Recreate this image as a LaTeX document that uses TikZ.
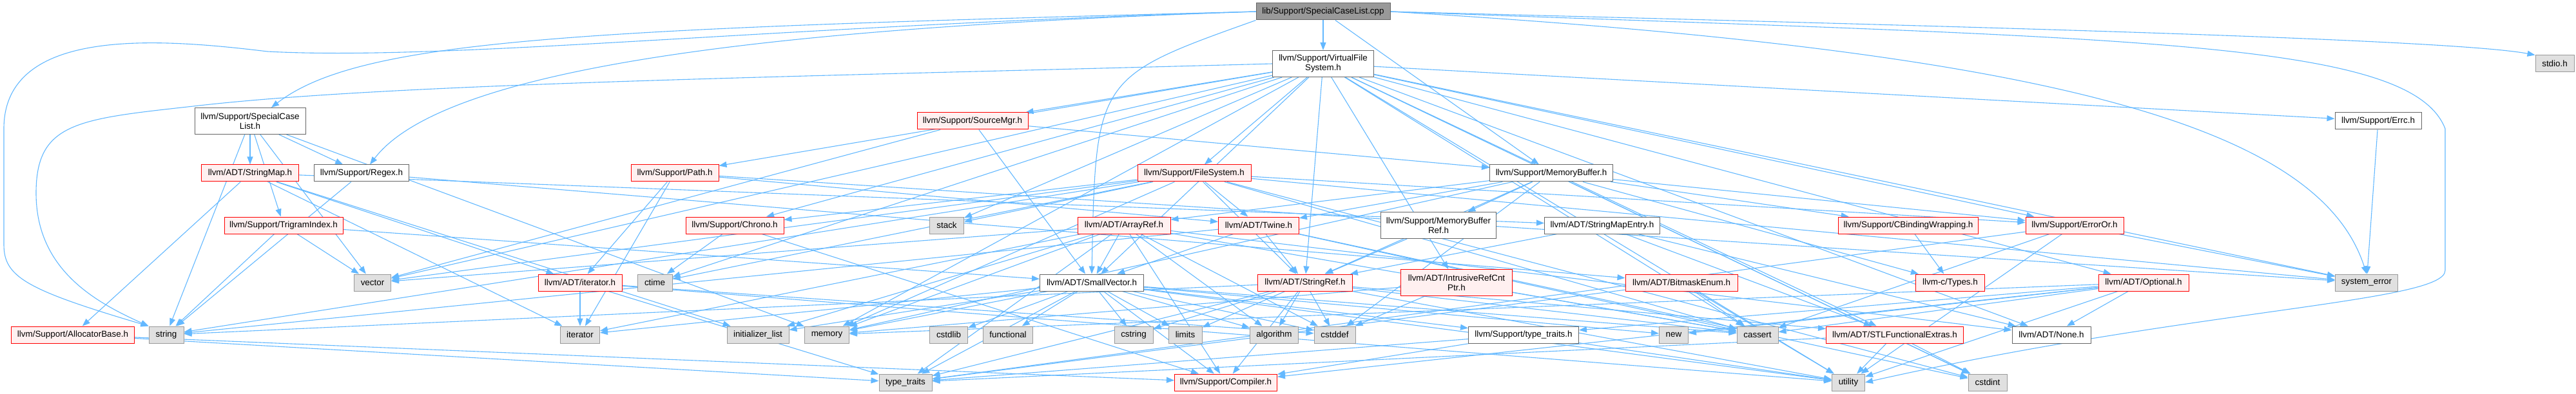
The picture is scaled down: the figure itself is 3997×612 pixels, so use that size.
\documentclass[tikz,border=0pt]{standalone}
\usepackage{fontspec}
\setmainfont{Liberation Sans}
\usetikzlibrary{arrows.meta}
\definecolor{edgec}{HTML}{63B8FF}
\definecolor{nodeb}{HTML}{666666}
\definecolor{redb}{HTML}{FF0000}
\definecolor{redfill}{HTML}{FFF0F0}
\definecolor{sysb}{HTML}{999999}
\definecolor{sysfill}{HTML}{E0E0E0}
\definecolor{rootfill}{HTML}{999999}
\pgfdeclarelayer{bg}
\pgfsetlayers{bg,main}
\tikzset{
  base/.style={draw, line width=1pt, inner sep=0pt, minimum height=26pt, align=center},
  nd/.style={base, draw=nodeb, fill=white},
  rd/.style={base, draw=redb, fill=redfill},
  sy/.style={base, draw=sysb, fill=sysfill},
  rt/.style={base, draw=nodeb, fill=rootfill},
  two/.style={minimum height=41pt},
  e/.style={draw=edgec, line width=1.1pt, -{Triangle[length=12pt,width=9pt]}},
}
\begin{document}
\begin{tikzpicture}[x=1pt,y=-1pt,font=\fontsize{13.4}{15}\selectfont]
\useasboundingbox (0,0) rectangle (3997,612);
\node[rt, minimum width=208] (cpp) at (2053,18) {lib/Support/SpecialCaseList.cpp};
\node[nd, two, minimum width=157] (vfs) at (2053,99) {llvm/Support/VirtualFile\\System.h};
\node[sy, minimum width=60] (stdio) at (3964,99) {stdio.h};
\node[nd, two, minimum width=172] (scl) at (388,188) {llvm/Support/SpecialCase\\List.h};
\node[rd, minimum width=172] (srcmgr) at (1509,188) {llvm/Support/SourceMgr.h};
\node[nd, minimum width=134] (errc) at (3690,188) {llvm/Support/Errc.h};
\node[rd, minimum width=151] (strmap) at (388,269) {llvm/ADT/StringMap.h};
\node[nd, minimum width=147] (regex) at (561,269) {llvm/Support/Regex.h};
\node[rd, minimum width=136] (path) at (1047,269) {llvm/Support/Path.h};
\node[rd, minimum width=176] (fs) at (1853,269) {llvm/Support/FileSystem.h};
\node[nd, minimum width=191] (membuf) at (2407,269) {llvm/Support/MemoryBuffer.h};
\node[rd, minimum width=184] (trigram) at (440,350) {llvm/Support/TrigramIndex.h};
\node[rd, minimum width=152] (chrono) at (1140,350) {llvm/Support/Chrono.h};
\node[sy, minimum width=53] (stack) at (1469,350) {stack};
\node[rd, minimum width=144] (arrayref) at (1744,350) {llvm/ADT/ArrayRef.h};
\node[rd, minimum width=125] (twine) at (1953,350) {llvm/ADT/Twine.h};
\node[nd, two, minimum width=179] (mbref) at (2232,350) {llvm/Support/MemoryBuffer\\Ref.h};
\node[nd, minimum width=179] (smentry) at (2486,350) {llvm/ADT/StringMapEntry.h};
\node[rd, minimum width=217] (cbind) at (2961,350) {llvm/Support/CBindingWrapping.h};
\node[rd, minimum width=152] (erroror) at (3219,350) {llvm/Support/ErrorOr.h};
\node[sy, minimum width=57] (vector) at (578,439) {vector};
\node[rd, minimum width=130] (itert) at (900,439) {llvm/ADT/iterator.h};
\node[sy, minimum width=54] (ctime) at (1016,439) {ctime};
\node[nd, minimum width=161] (smallvec) at (1694,439) {llvm/ADT/SmallVector.h};
\node[rd, minimum width=147] (strref) at (2025,439) {llvm/ADT/StringRef.h};
\node[rd, two, minimum width=173] (irc) at (2260,439) {llvm/ADT/IntrusiveRefCnt\\Ptr.h};
\node[rd, minimum width=174] (bitmask) at (2609,439) {llvm/ADT/BitmaskEnum.h};
\node[rd, minimum width=107] (ctypes) at (3026,439) {llvm-c/Types.h};
\node[rd, minimum width=140] (optional) at (3326,439) {llvm/ADT/Optional.h};
\node[sy, minimum width=97] (syserr) at (3672,439) {system\_error};
\node[rd, minimum width=191] (alloc) at (113,520) {llvm/Support/AllocatorBase.h};
\node[sy, minimum width=54] (string) at (258,520) {string};
\node[sy, minimum width=61] (iterator) at (900,520) {iterator};
\node[sy, minimum width=96] (initlist) at (1176,520) {initializer\_list};
\node[sy, minimum width=69] (memory) at (1283,520) {memory};
\node[sy, minimum width=59] (cstdlib) at (1472,520) {cstdlib};
\node[sy, minimum width=77] (functional) at (1564,520) {functional};
\node[sy, minimum width=60] (cstring) at (1759,520) {cstring};
\node[sy, minimum width=52] (limits) at (1839,520) {limits};
\node[sy, minimum width=75] (algorithm) at (1977,520) {algorithm};
\node[sy, minimum width=64] (cstddef) at (2071,520) {cstddef};
\node[nd, minimum width=171] (tth) at (2364,520) {llvm/Support/type\_traits.h};
\node[sy, minimum width=45] (new) at (2597,520) {new};
\node[sy, minimum width=64] (cassert) at (2727,520) {cassert};
\node[rd, minimum width=213] (stlfe) at (2940,520) {llvm/ADT/STLFunctionalExtras.h};
\node[nd, minimum width=122] (none) at (3183,520) {llvm/ADT/None.h};
\node[sy, minimum width=82] (tt) at (1405,594) {type\_traits};
\node[rd, minimum width=159] (compiler) at (1902,594) {llvm/Support/Compiler.h};
\node[sy, minimum width=51] (utility) at (2868,594) {utility};
\node[sy, minimum width=60] (cstdint) at (3084,594) {cstdint};
\begin{pgfonlayer}{bg}
% root
\draw[e] (cpp.west) .. controls (900,45) and (560,60) .. ([xshift=33]scl.north);
\draw[e] (cpp.west) .. controls (1300,40) and (700,90) .. ([xshift=13]regex.north);
\draw[e] (cpp.west) .. controls (1200,40) and (700,95) .. (415,80) .. controls (250,60) and (6,40) .. (6,200) -- (6,380) .. controls (6,430) and (40,450) .. (string.north west);
\draw[e] (cpp) -- (vfs);
\draw[e] (cpp) -- (membuf);
\draw[e] (cpp.south west) .. controls (1700,120) .. (smallvec.north);
\draw[e] (cpp.east) .. controls (3000,40) and (3800,60) .. (stdio.north west);
\draw[e] (cpp.east) .. controls (3300,60) and (3740,60) .. (3794,200) -- (3794,420) .. controls (3794,470) and (3400,480) .. (utility.east);
\draw[e] (cpp.east) .. controls (3200,80) and (3600,200) .. (syserr.north);
% vfs
\draw[e] (vfs.west) .. controls (1200,120) and (600,130) .. (300,165) .. controls (120,185) and (56,190) .. (56,300) .. controls (56,420) and (150,470) .. (string.north west);
\foreach \t in {irc,none,optional,stlfe,smallvec,strref,chrono,erroror,errc,fs,path,srcmgr,cassert,cstdint,ctime,memory,stack,syserr,utility,vector}
  \draw[e] (vfs) -- (\t);
\foreach \t in {strmap,regex,trigram,memory,string,vector} \draw[e] (scl) -- (\t);
\foreach \t in {smentry,itert,alloc,initlist,iterator} \draw[e] (strmap) -- (\t);
\foreach \t in {bitmask,string} \draw[e] (regex) -- (\t);
\foreach \t in {smallvec,string,vector} \draw[e] (trigram) -- (\t);
\foreach \t in {compiler,tt} \draw[e] (alloc) -- (\t);
\foreach \t in {smallvec,membuf,vector} \draw[e] (srcmgr) -- (\t);
\foreach \t in {twine,itert,iterator,syserr} \draw[e] (path) -- (\t);
\foreach \t in {strref,twine,chrono,erroror,cassert,cstdint,ctime,memory,stack,string,syserr,vector} \draw[e] (fs) -- (\t);
\foreach \t in {ctypes,arrayref,strref,twine,cbind,erroror,mbref,cstddef,cstdint,memory} \draw[e] (membuf) -- (\t);
\draw[e] (errc) -- (syserr);
\foreach \t in {compiler,ctime} \draw[e] (chrono) -- (\t);
\foreach \t in {none,smallvec,compiler,algorithm,cassert,cstddef,initlist,iterator,memory,tt,vector} \draw[e] (arrayref) -- (\t);
\foreach \t in {smallvec,strref,cassert,cstdint,string} \draw[e] (twine) -- (\t);
\draw[e] (mbref) -- (strref);
\foreach \t in {strref,stlfe,none} \draw[e] (smentry) -- (\t);
\draw[e] (cbind) -- (ctypes);
\foreach \t in {cassert,syserr,tt,utility} \draw[e] (erroror) -- (\t);
\foreach \t in {compiler,tth,algorithm,cassert,cstddef,cstdlib,cstring,functional,initlist,iterator,limits,memory,new,tt,utility} \draw[e] (smallvec) -- (\t);
\foreach \t in {stlfe,compiler,algorithm,cassert,cstddef,cstring,limits,string,tt,utility} \draw[e] (strref) -- (\t);
\foreach \t in {cassert,cstddef,memory} \draw[e] (irc) -- (\t);
\foreach \t in {cassert,tt,utility} \draw[e] (bitmask) -- (\t);
\foreach \t in {none,compiler,tth,cassert,memory,new,utility} \draw[e] (optional) -- (\t);
\foreach \t in {cstddef,iterator,tt,utility} \draw[e] (itert) -- (\t);
\foreach \t in {compiler,tt,utility} \draw[e] (tth) -- (\t);
\foreach \t in {cstdint,tt,utility} \draw[e] (stlfe) -- (\t);
\end{pgfonlayer}
\end{tikzpicture}
\end{document}
